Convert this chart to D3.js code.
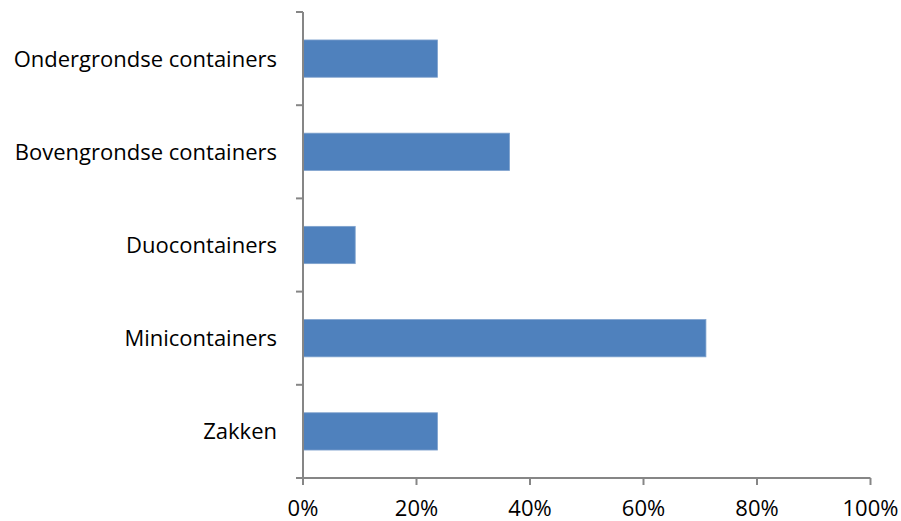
<!DOCTYPE html>
<html>
<head>
<meta charset="utf-8">
<script src="https://cdn.jsdelivr.net/npm/d3@7"></script>
<style>
  html, body { margin: 0; padding: 0; background: #fff; }
  svg { display: block; }
  text { font-family: "Open Sans", sans-serif; fill: #000; }
</style>
</head>
<body>
<svg id="chart" width="901" height="521"></svg>
<script>
// Types of waste collection containers, share of respondents
const categories = ["Ondergrondse containers", "Bovengrondse containers", "Duocontainers", "Minicontainers", "Zakken"];
const shares = [0.237, 0.364, 0.092, 0.710, 0.237];
const tickValues = [0, 0.2, 0.4, 0.6, 0.8, 1.0];

const svg = d3.select("#chart");
const plotTop = 12, plotBottom = 478;

const x = d3.scaleLinear().domain([0, 1]).range([303, 870.5]);
const y = d3.scaleBand().domain(categories).range([plotTop, plotBottom]).paddingInner(0.6).paddingOuter(0.3);
const yOuter = d3.scaleBand().domain(categories).range([plotTop, plotBottom]);

const axisColor = "#868686";

// bars
svg.append("g").selectAll("rect")
  .data(categories)
  .join("rect")
  .attr("x", x(0))
  .attr("y", d => y(d))
  .attr("width", (d, i) => x(shares[i]) - x(0))
  .attr("height", y.bandwidth())
  .attr("fill", "#4F81BD")
  .attr("stroke", "#7FA2CE")
  .attr("stroke-width", 0.8);

// category axis
const yAxis = svg.append("g");
yAxis.append("line")
  .attr("x1", x(0)).attr("x2", x(0))
  .attr("y1", plotTop).attr("y2", plotBottom)
  .attr("stroke", axisColor).attr("stroke-width", 2);
const yTicks = categories.map(c => yOuter(c)).concat([plotBottom]);
yAxis.selectAll("line.tick").data(yTicks).join("line")
  .attr("class", "tick")
  .attr("x1", x(0) - 7).attr("x2", x(0))
  .attr("y1", d => d).attr("y2", d => d)
  .attr("stroke", axisColor).attr("stroke-width", 2);
yAxis.selectAll("text").data(categories).join("text")
  .attr("x", 277)
  .attr("y", d => yOuter(d) + yOuter.bandwidth() / 2 + 8)
  .attr("text-anchor", "end")
  .style("font-size", "22px")
  .text(d => d);

// value axis
const xAxis = svg.append("g");
xAxis.append("line")
  .attr("x1", x(0) - 7).attr("x2", x(1))
  .attr("y1", plotBottom).attr("y2", plotBottom)
  .attr("stroke", axisColor).attr("stroke-width", 2);
xAxis.selectAll("line.tick").data(tickValues).join("line")
  .attr("class", "tick")
  .attr("x1", d => x(d)).attr("x2", d => x(d))
  .attr("y1", plotBottom).attr("y2", plotBottom + 7)
  .attr("stroke", axisColor).attr("stroke-width", 2);
xAxis.selectAll("text").data(tickValues).join("text")
  .attr("x", d => x(d))
  .attr("y", 516)
  .attr("text-anchor", "middle")
  .style("font-size", "22px")
  .text(d => d3.format(".0%")(d));
</script>
</body>
</html>
